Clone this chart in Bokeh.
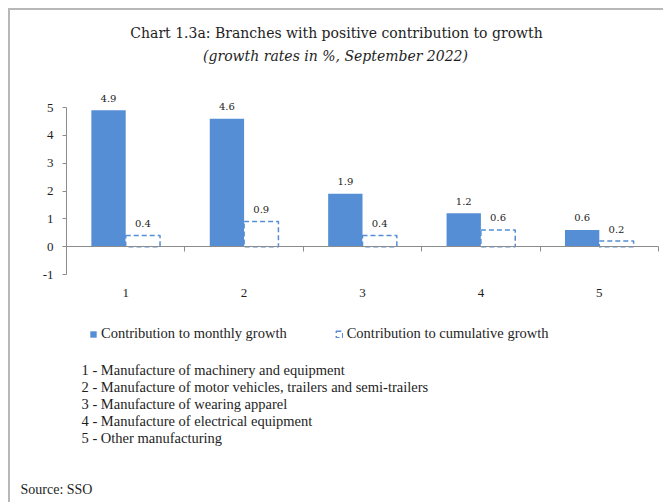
from bokeh.plotting import figure
from bokeh.models import (ColumnDataSource, Range1d, LinearAxis, FixedTicker,
                          Legend, LegendItem, Label)
from bokeh.core.properties import value
from bokeh.embed import file_html
from bokeh.resources import INLINE

# ---- data ----
categories = ["1", "2", "3", "4", "5"]
monthly = [4.9, 4.6, 1.9, 1.2, 0.6]
cumulative = [0.4, 0.9, 0.4, 0.6, 0.2]
y_ticks = [-1, 0, 1, 2, 3, 4, 5]
series_names = ["Contribution to monthly growth", "Contribution to cumulative growth"]
branch_names = [
    "1 -  Manufacture of machinery and equipment",
    "2 - Manufacture of motor vehicles, trailers and semi-trailers",
    "3 - Manufacture of wearing apparel",
    "4 - Manufacture of electrical equipment",
    "5 - Other manufacturing",
]
title_text = "Chart 1.3a: Branches with positive contribution to growth"
subtitle_text = "(growth rates in %, September 2022)"
source_text = "Source: SSO"

# ---- style / layout ----
SERIF = "Liberation Serif"
TSERIF = "DejaVu Serif"
BLUE = "#558ED5"
GRAY = "#8c8c8c"
TEXT = "#1e1e1e"
BAR_W = 0.29

W, H = 655, 494
# pixel box of the value axes inside the canvas
AX_L, AX_R, AX_T, AX_B = 56, 648, 97, 264

n = len(categories)
y_lo, y_hi = y_ticks[0], y_ticks[-1]
centers = [i + 0.5 for i in range(n)]
xs = (AX_R - AX_L) / n
ys = (AX_B - AX_T) / (y_hi - y_lo)

p = figure(width=W, height=H,
           x_range=Range1d(-AX_L / xs, n + (W - AX_R) / xs),
           y_range=Range1d(y_lo - (H - AX_B) / ys, y_hi + AX_T / ys),
           output_backend="svg", toolbar_location=None,
           x_axis_type=None, y_axis_type=None,
           min_border=0,
           styles={"margin": "8px 0 0 8px",
                   "border-left": "2px solid #b8b8b8", "border-top": "2px solid #b8b8b8"})
p.outline_line_color = None
p.grid.visible = False
p.background_fill_color = "white"
p.border_fill_color = "white"

# y axis
ya = LinearAxis(fixed_location=0, bounds=(y_lo, y_hi), ticker=FixedTicker(ticks=y_ticks),
                major_label_overrides={t: str(t) for t in y_ticks},
                axis_line_color=GRAY, major_tick_line_color=GRAY, minor_tick_line_color=None,
                major_tick_in=0, major_tick_out=4, major_label_standoff=9,
                major_label_text_font=SERIF, major_label_text_font_size="13px",
                major_label_text_color=TEXT)
p.add_layout(ya, "left")

# axis through zero with ticks at category boundaries
edge_axis = LinearAxis(fixed_location=0, bounds=(0, n),
                       ticker=FixedTicker(ticks=list(range(n + 1))),
                       major_tick_in=0, major_tick_out=5,
                       minor_tick_line_color=None,
                       axis_line_color=GRAY, major_tick_line_color=GRAY,
                       major_label_text_color=None)
p.add_layout(edge_axis, "below")

# category labels
cat_axis = LinearAxis(fixed_location=y_lo, ticker=FixedTicker(ticks=centers),
                      major_label_overrides={c: lab for c, lab in zip(centers, categories)},
                      axis_line_color=None, major_tick_line_color=None,
                      minor_tick_line_color=None, major_label_standoff=8,
                      major_label_text_font=SERIF, major_label_text_font_size="13px",
                      major_label_text_color=TEXT)
p.add_layout(cat_axis, "below")

src = ColumnDataSource(dict(
    xm=[c - BAR_W / 2 for c in centers], xc=[c + BAR_W / 2 for c in centers],
    monthly=monthly, cumulative=cumulative,
    mlab=[f"{v:.1f}" for v in monthly], clab=[f"{v:.1f}" for v in cumulative]))

r1 = p.vbar(x="xm", top="monthly", bottom=0,
            width=BAR_W, source=src, fill_color=BLUE, line_color=None)
r2 = p.vbar(x="xc", top="cumulative", bottom=0,
            width=BAR_W, source=src, fill_color="white", line_color=BLUE,
            line_width=1.5, line_dash="5 3")

for xcol, ycol, tcol in (("xm", "monthly", "mlab"), ("xc", "cumulative", "clab")):
    p.text(x=xcol, y=ycol, text=tcol, source=src,
           text_align="center", text_baseline="middle", y_offset=-12,
           text_font=value(TSERIF), text_font_size="10px", text_color=TEXT)

legend = Legend(items=[LegendItem(label=series_names[0], renderers=[r1]),
                       LegendItem(label=series_names[1], renderers=[r2])],
                location=(79, 162), orientation="horizontal",
                glyph_width=8, glyph_height=8, label_standoff=4, spacing=48,
                padding=0, margin=0, label_height=14,
                label_text_font=SERIF, label_text_font_size="14.5px",
                label_text_color=TEXT,
                border_line_color=None, background_fill_alpha=0)
p.add_layout(legend, "center")

p.add_layout(Label(x=326, y=472, x_units="screen", y_units="screen", text=title_text,
                   text_align="center", text_baseline="middle",
                   text_font=TSERIF, text_font_size="14px", text_color=TEXT))
p.add_layout(Label(x=325, y=449, x_units="screen", y_units="screen", text=subtitle_text,
                   text_align="center", text_baseline="middle", text_font_style="italic",
                   text_font=TSERIF, text_font_size="14px", text_color=TEXT))
for i, name in enumerate(branch_names):
    p.add_layout(Label(x=71, y=135 - 17 * i, x_units="screen", y_units="screen", text=name,
                       text_align="left", text_baseline="middle",
                       text_font=SERIF, text_font_size="14.5px", text_color=TEXT))
p.add_layout(Label(x=10, y=15, x_units="screen", y_units="screen", text=source_text,
                   text_align="left", text_baseline="middle",
                   text_font=SERIF, text_font_size="14px", text_color=TEXT))

open("out.html", "w").write(file_html(p, INLINE))
